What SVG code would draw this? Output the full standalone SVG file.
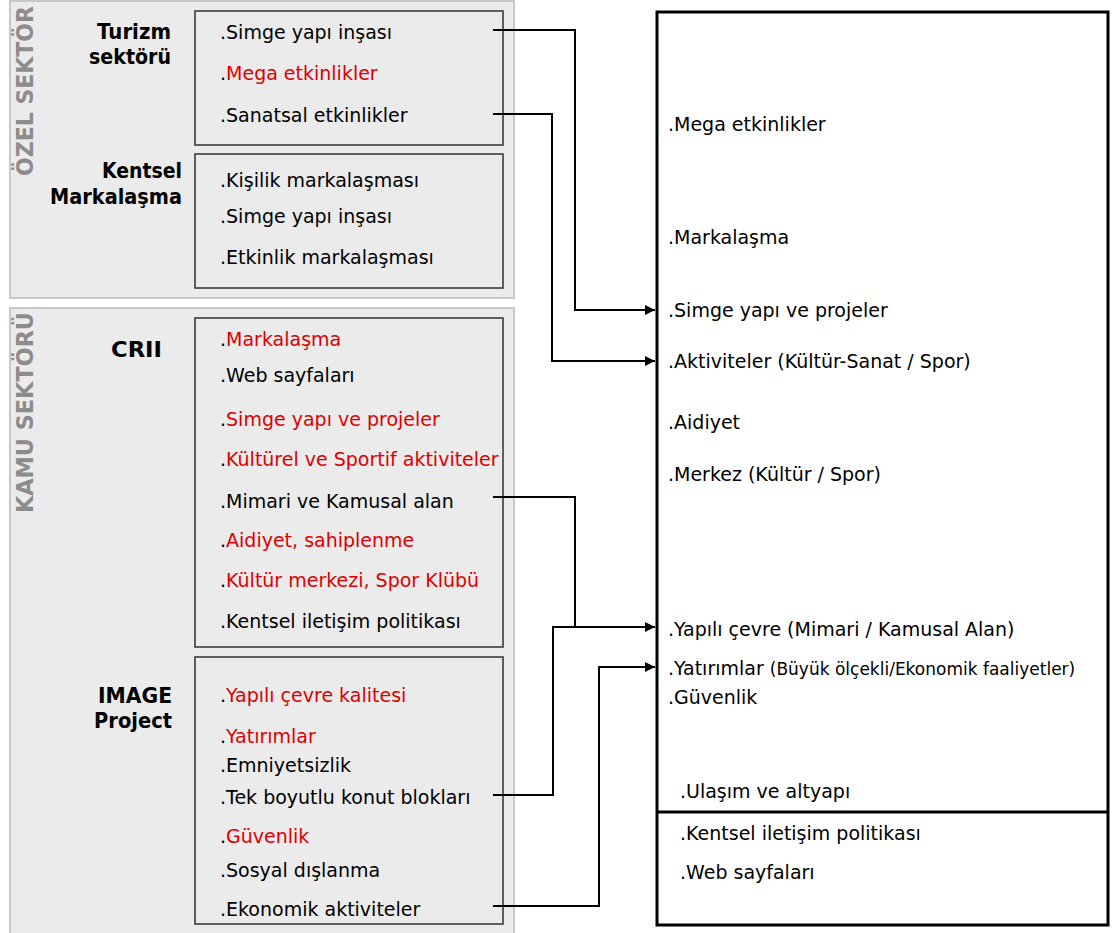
<svg xmlns="http://www.w3.org/2000/svg" width="1112" height="933" viewBox="0 0 1112 933">
<style>
.panel{fill:#ebebeb;stroke:#c8c8c8;stroke-width:2}
.box{fill:#ebebeb;stroke:#3c3c3c;stroke-width:1.6}
.t{font-family:"DejaVu Sans","Liberation Sans",sans-serif;font-size:19px;fill:#000}
.s{font-size:17px}
.r{fill:#dd0000}
.b{font-family:"DejaVu Sans","Liberation Sans",sans-serif;font-size:21px;font-weight:bold;fill:#000;text-anchor:end}
.v{font-family:"DejaVu Sans","Liberation Sans",sans-serif;font-size:23px;font-weight:bold;fill:#8c8c8c}
.c{fill:none;stroke:#000;stroke-width:2}
</style>
<defs>
<marker id="ah" markerWidth="10" markerHeight="12" refX="10" refY="6" orient="auto" markerUnits="userSpaceOnUse">
<path d="M0,1 L10,6 L0,11 z" fill="#000"/>
</marker>
</defs>
<rect width="1112" height="933" fill="#fff"/>
<g id="ozel-sektor">
<rect class="panel" x="10" y="1" width="504" height="297"/>
<text class="v" transform="translate(33,176) rotate(-90)" textLength="170" lengthAdjust="spacingAndGlyphs">ÖZEL SEKTÖR</text>
</g>
<g id="kamu-sektoru">
<rect class="panel" x="10" y="308" width="504" height="640"/>
<text class="v" transform="translate(33,513) rotate(-90)" textLength="201" lengthAdjust="spacingAndGlyphs">KAMU SEKTÖRÜ</text>
</g>
<g id="turizm">
<text class="b" x="171" y="39" textLength="74" lengthAdjust="spacingAndGlyphs">Turizm</text>
<text class="b" x="171" y="64" textLength="82" lengthAdjust="spacingAndGlyphs">sektörü</text>
<rect class="box" x="195" y="11" width="308" height="134"/>
<text class="t" x="220" y="39">.Simge yapı inşası</text>
<text class="t" x="220" y="80">.<tspan class="r">Mega etkinlikler</tspan></text>
<text class="t" x="220" y="122">.Sanatsal etkinlikler</text>
</g>
<g id="kentsel">
<text class="b" x="182" y="178" textLength="80" lengthAdjust="spacingAndGlyphs">Kentsel</text>
<text class="b" x="182" y="204" textLength="132" lengthAdjust="spacingAndGlyphs">Markalaşma</text>
<rect class="box" x="195" y="154" width="308" height="134"/>
<text class="t" x="220" y="187">.Kişilik markalaşması</text>
<text class="t" x="220" y="223">.Simge yapı inşası</text>
<text class="t" x="220" y="264">.Etkinlik markalaşması</text>
</g>
<g id="crii">
<text class="b" x="162" y="357" textLength="51" lengthAdjust="spacingAndGlyphs">CRII</text>
<rect class="box" x="195" y="318" width="308" height="329"/>
<text class="t" x="220" y="346">.<tspan class="r">Markalaşma</tspan></text>
<text class="t" x="220" y="382">.Web sayfaları</text>
<text class="t" x="220" y="426">.<tspan class="r">Simge yapı ve projeler</tspan></text>
<text class="t" x="220" y="466">.<tspan class="r">Kültürel ve Sportif aktiviteler</tspan></text>
<text class="t" x="220" y="508">.Mimari ve Kamusal alan</text>
<text class="t" x="220" y="547">.<tspan class="r">Aidiyet, sahiplenme</tspan></text>
<text class="t" x="220" y="587">.<tspan class="r">Kültür merkezi, Spor Klübü</tspan></text>
<text class="t" x="220" y="628">.Kentsel iletişim politikası</text>
</g>
<g id="image-project">
<text class="b" x="172" y="703" textLength="74" lengthAdjust="spacingAndGlyphs">IMAGE</text>
<text class="b" x="172" y="728" textLength="78" lengthAdjust="spacingAndGlyphs">Project</text>
<rect class="box" x="195" y="657" width="308" height="267"/>
<text class="t" x="220" y="702">.<tspan class="r">Yapılı çevre kalitesi</tspan></text>
<text class="t" x="220" y="743">.<tspan class="r">Yatırımlar</tspan></text>
<text class="t" x="220" y="772">.Emniyetsizlik</text>
<text class="t" x="220" y="804">.Tek boyutlu konut blokları</text>
<text class="t" x="220" y="843">.<tspan class="r">Güvenlik</tspan></text>
<text class="t" x="220" y="877">.Sosyal dışlanma</text>
<text class="t" x="220" y="916">.Ekonomik aktiviteler</text>
</g>
<g id="sonuc">
<rect x="657" y="12" width="451" height="913" fill="#fff" stroke="#000" stroke-width="3"/>
<line x1="657" y1="812" x2="1108" y2="812" stroke="#000" stroke-width="3"/>
<text class="t" x="668" y="131">.Mega etkinlikler</text>
<text class="t" x="668" y="244">.Markalaşma</text>
<text class="t" x="668" y="317">.Simge yapı ve projeler</text>
<text class="t" x="668" y="368">.Aktiviteler (Kültür-Sanat / Spor)</text>
<text class="t" x="668" y="429">.Aidiyet</text>
<text class="t" x="668" y="481">.Merkez (Kültür / Spor)</text>
<text class="t" x="668" y="636">.Yapılı çevre (Mimari / Kamusal Alan)</text>
<text class="t" x="668" y="675">.Yatırımlar <tspan class="s">(Büyük ölçekli/Ekonomik faaliyetler)</tspan></text>
<text class="t" x="668" y="704">.Güvenlik</text>
<text class="t" x="680" y="798">.Ulaşım ve altyapı</text>
<text class="t" x="680" y="840">.Kentsel iletişim politikası</text>
<text class="t" x="680" y="879">.Web sayfaları</text>
</g>
<g id="connectors">
<path class="c" d="M493,30 H575 V310 H655" marker-end="url(#ah)"/>
<path class="c" d="M493,114 H552 V361 H655" marker-end="url(#ah)"/>
<path class="c" d="M493,497 H575 V627 H655" marker-end="url(#ah)"/>
<path class="c" d="M493,795 H553 V627 H575"/>
<path class="c" d="M493,906 H599 V667 H655" marker-end="url(#ah)"/>
</g>
</svg>
